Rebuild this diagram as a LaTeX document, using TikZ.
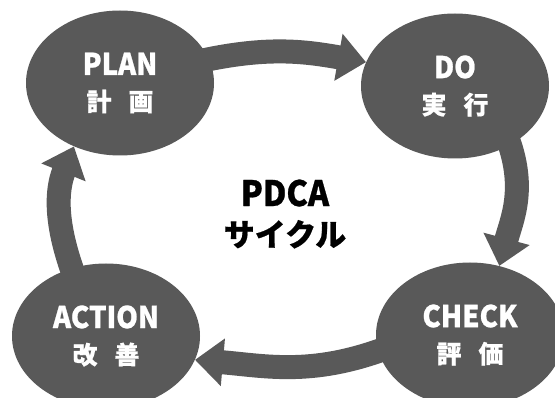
\documentclass[tikz,border=0pt]{standalone}
\usepackage{fontspec}
\usetikzlibrary{shapes.geometric,arrows.meta}
\newfontfamily\labfont{Noto Sans CJK JP}[FakeStretch=0.92,BoldFeatures={FakeBold=0.8}]
\newfontfamily\cjkfont{Noto Sans CJK JP}[BoldFeatures={FakeBold=0.6}]
\definecolor{disk}{HTML}{595959}
\newcommand\steplabel[2]{{\labfont\bfseries\fontsize{30}{36}\selectfont #1}\\{\cjkfont\bfseries\fontsize{25}{36}\selectfont #2}}
\begin{document}
\begin{tikzpicture}[x=1pt,y=1pt,
  phase/.style={ellipse,fill=disk,text=white,inner sep=0pt,align=center,
    minimum width=188pt,minimum height=145pt,font=\fontsize{30}{36}\selectfont},
  cyc/.style={draw=disk,line width=24pt,shorten <=-6pt,
    -{Triangle[length=28pt,width=46pt]}}]
\useasboundingbox (0,0) rectangle (555,397);
\clip (0,0) rectangle (555,397);
\node[phase] (plan) at (120,314) {\steplabel{PLAN}{計\hspace{17pt}画}};
\node[phase] (do) at (455,311) {\steplabel{DO}{実\hspace{17pt}行}};
\node[phase] (action) at (106,61) {\steplabel{ACTION}{改\hspace{17pt}善}};
\node[phase] (check) at (470,62) {\steplabel{CHECK}{評\hspace{17pt}価}};
\node[align=center,text=black,font=\fontsize{35}{40}\selectfont] (title) at (285,183)
  {{\labfont\bfseries\fontsize{35}{40}\selectfont PDCA}\\{\cjkfont\bfseries\fontsize{31}{40}\selectfont サイクル}};
\draw[cyc] (plan.15) to[out=12,in=170] (do.165);
\draw[cyc] (do.-47) to[out=-70,in=75] (check.67);
\draw[cyc] (check.190) to[out=200,in=-5] (action.-15);
\draw[cyc] (action.117) to[out=110,in=248] (plan.234);
\end{tikzpicture}
\end{document}
